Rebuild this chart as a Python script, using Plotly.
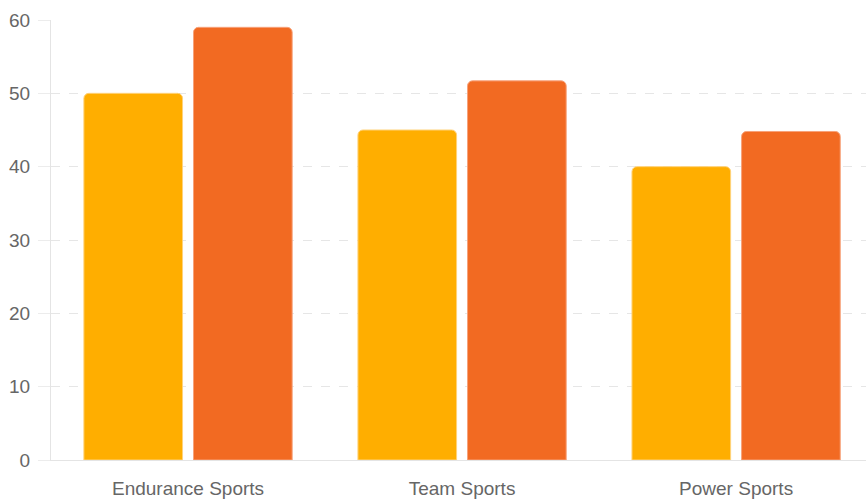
import plotly.graph_objects as go

categories = ["Endurance Sports", "Team Sports", "Power Sports"]
series_a = [50, 45, 40]
series_b = [59, 51.7, 44.8]
y_ticks = [0, 10, 20, 30, 40, 50, 60]

fig = go.Figure()
fig.add_trace(go.Bar(
    x=categories, y=series_a,
    marker=dict(color="#FFAE00", line=dict(color="#FFD27A", width=1), cornerradius=5),
    showlegend=False, hoverinfo="x+y",
))
fig.add_trace(go.Bar(
    x=categories, y=series_b,
    marker=dict(color="#F26A22", line=dict(color="#F7A27A", width=1), cornerradius=5),
    showlegend=False, hoverinfo="x+y",
))

fig.update_layout(
    width=866, height=499,
    margin=dict(l=51, r=0, t=20, b=39),
    paper_bgcolor="white", plot_bgcolor="white",
    barmode="group", bargap=0.2, bargroupgap=0.1,
    font=dict(family="Liberation Sans, Arial, sans-serif", size=19, color="#666666"),
    xaxis=dict(
        range=[-0.5, 2.474], automargin=False,
        showgrid=False, showline=True, linecolor="#e4e4e4", linewidth=1,
        ticks="outside", ticklen=0, tickcolor="white",
        ticklabelstandoff=11, zeroline=False,
    ),
    yaxis=dict(
        range=[0, 60], tickvals=y_ticks, automargin=False,
        showgrid=True, gridcolor="#e6e6e6", griddash="dash", gridwidth=1,
        showline=True, linecolor="#e4e4e4", linewidth=1,
        ticks="outside", ticklen=12, tickcolor="#ececec",
        ticklabelstandoff=4, zeroline=False,
    ),
)

fig.write_html("out.html")
